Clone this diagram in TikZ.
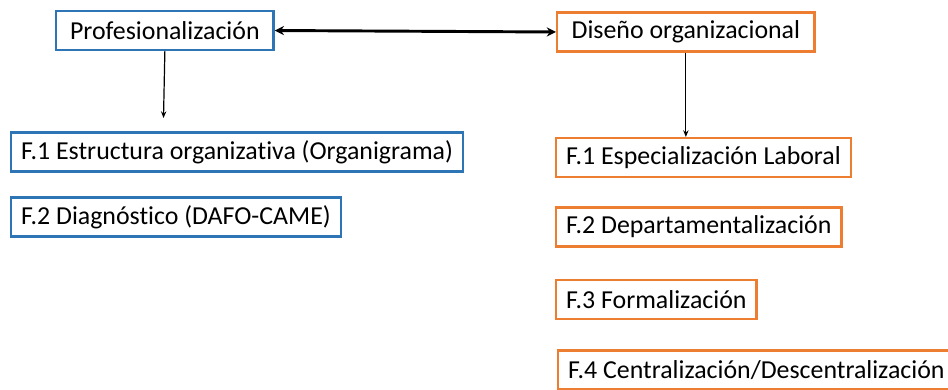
\documentclass[tikz,border=0pt]{standalone}
\usepackage{fontspec}
\setmainfont{Carlito}[Ligatures=NoCommon]
\usetikzlibrary{arrows.meta}
\definecolor{boxblue}{HTML}{2E75B6}
\definecolor{boxorange}{HTML}{ED7D31}
\tikzset{
  factor/.style={draw, line width=1.8pt, anchor=west, inner xsep=7.5pt,
    minimum height=29pt, font=\fontsize{19.4}{21}\selectfont},
  blue box/.style={factor, draw=boxblue},
  orange box/.style={factor, draw=boxorange},
}
\begin{document}
\begin{tikzpicture}[x=0.75pt,y=-0.75pt]
\useasboundingbox (0,0) rectangle (948,389);
% top headings
\node[blue box, minimum width=163pt] (prof) at (55,30.5) {Profesionalizaci\'on};
\node[orange box, minimum width=193pt] (dis) at (556,32) {Dise\~no organizacional};
\draw[line width=2.2pt, {Stealth[length=7pt,width=7pt]}-{Stealth[length=7pt,width=7pt]}] (prof.east) -- (dis.west);
% left column
\node[blue box] (p1) at (10,152) {F.1 Estructura organizativa (Organigrama)};
\node[blue box] (p2) at (10,217) {F.2 Diagn\'ostico (DAFO-CAME)};
\coordinate (pend) at (163.5,118);
\draw[line width=0.9pt, -{Stealth[length=5pt,width=4pt]}] (prof.south) -- (pend);
% right column
\node[orange box] (d1) at (555,157.5) {F.1 Especializaci\'on Laboral};
\node[orange box] (d2) at (555,227) {F.2 Departamentalizaci\'on};
\node[orange box] (d3) at (555,299.5) {F.3 Formalizaci\'on};
\node[orange box] (d4) at (557,370) {F.4 Centralizaci\'on/Descentralizaci\'on};
\draw[line width=0.9pt, -{Stealth[length=5pt,width=4pt]}] (dis.south) -- (dis.south |- d1.north);
\end{tikzpicture}
\end{document}
